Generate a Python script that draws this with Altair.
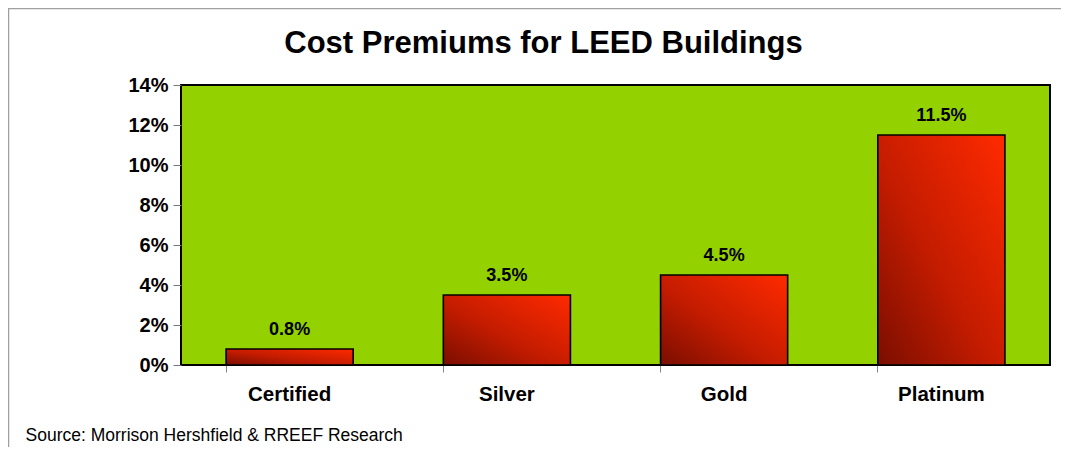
import altair as alt
import pandas as pd

categories = ["Certified", "Silver", "Gold", "Platinum"]
premiums = [0.008, 0.035, 0.045, 0.115]
y_ticks = [0, 0.02, 0.04, 0.06, 0.08, 0.10, 0.12, 0.14]

df = pd.DataFrame({"level": categories, "premium": premiums})

FONT = "Liberation Sans"

gradient = alt.Gradient(
    gradient="linear",
    stops=[
        alt.GradientStop(color="#7a0e00", offset=0),
        alt.GradientStop(color="#c41c00", offset=0.45),
        alt.GradientStop(color="#ff2a00", offset=1),
    ],
    x1=0, y1=1, x2=1, y2=0,
)

x_enc = alt.X(
    "level:N",
    sort=categories,
    scale=alt.Scale(paddingInner=0.415, paddingOuter=0.2075),
    axis=alt.Axis(
        title="Source: Morrison Hershfield & RREEF Research",
        titleX=-156, titleY=70, titleAlign="left", titleBaseline="middle",
        titleFontSize=17.5, titleFontWeight="normal", titleColor="#000000", titleFont=FONT,
        labelAngle=0, labelFontSize=20.5, labelFontWeight="bold", labelColor="#000000",
        labelFont=FONT, labelPadding=12, bandPosition=0, tickColor="#888888",
        tickSize=7, domain=False, grid=False,
    ),
)
y_enc = alt.Y(
    "premium:Q",
    scale=alt.Scale(domain=[0, 0.14], nice=False),
    axis=alt.Axis(
        title=None, values=y_ticks, format=".0%", labelFontSize=20,
        labelFontWeight="bold", labelColor="#000000", labelFont=FONT,
        labelPadding=5, tickColor="#777777", tickSize=8, domain=False, grid=False,
    ),
)

frame_data = alt.Data(values=[{"a": 1}])
frame_top = alt.Chart(frame_data).mark_rule(color="#a0a0a0", strokeWidth=2.5).encode(
    x=alt.value(-173), x2=alt.value(880), y=alt.value(-77)
)
frame_left = alt.Chart(frame_data).mark_rule(color="#a0a0a0", strokeWidth=2.5).encode(
    x=alt.value(-173), y=alt.value(-77), y2=alt.value(362)
)

bars = alt.Chart(df).mark_bar(color=gradient, stroke="#000000", strokeWidth=1.6).encode(
    x=x_enc, y=y_enc
)
labels = alt.Chart(df).mark_text(
    baseline="bottom", dy=-10, fontSize=18, fontWeight="bold", font=FONT, color="#000000"
).encode(x=x_enc, y=y_enc, text=alt.Text("premium:Q", format=".1%"))

chart = alt.layer(frame_top, frame_left, bars, labels).properties(
    width=869,
    height=280,
    autosize="none",
    padding={"left": 173, "top": 77, "right": 16, "bottom": 82},
    title=alt.Title(
        "Cost Premiums for LEED Buildings", fontSize=31, fontWeight="bold",
        font=FONT, color="#000000", anchor="middle", dx=-72, offset=0, dy=53,
    ),
).configure(
    background="#ffffff",
    view=alt.ViewConfig(fill="#94d100", stroke="#000000", strokeWidth=2),
)

chart.save("out.html", embed_options={"renderer": "svg", "actions": False})
